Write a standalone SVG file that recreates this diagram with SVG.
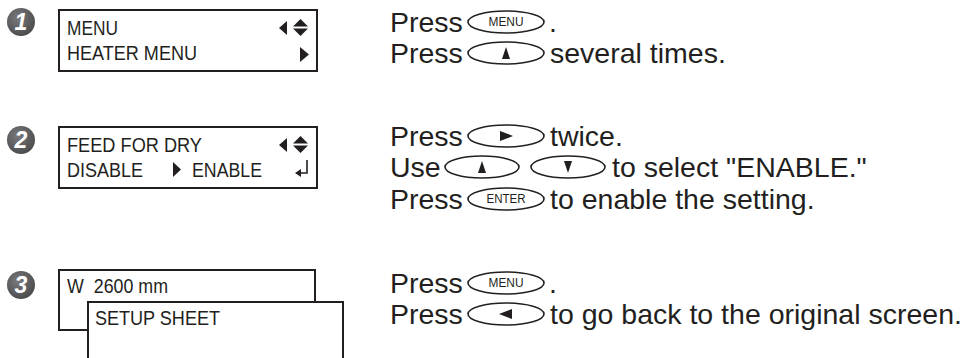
<svg xmlns="http://www.w3.org/2000/svg" width="974" height="358" viewBox="0 0 974 358">
<defs>
<style>
.lcd{fill:#fff;stroke:#231f20;stroke-width:2}
.lt{font-family:"Liberation Sans",Arial,sans-serif;font-size:20px;fill:#231f20}
.rt{font-family:"Liberation Sans",Arial,sans-serif;font-size:28.5px;fill:#231f20}
.key{fill:#fff;stroke:#231f20;stroke-width:1.6}
.kl{font-family:"Liberation Sans",Arial,sans-serif;font-size:12px;fill:#231f20;text-anchor:middle}
.sym{fill:#231f20}
.bn{font-family:"Liberation Sans",Arial,sans-serif;font-size:23px;font-weight:bold;font-style:italic;fill:#fff;text-anchor:middle}
</style>
<radialGradient id="bg" cx="0.4" cy="0.35" r="0.7">
<stop offset="0" stop-color="#7a7a7c"/>
<stop offset="1" stop-color="#4a4a4c"/>
</radialGradient>
</defs>
<rect width="974" height="358" fill="#fff"/>

<g id="step1">
<circle cx="21" cy="22" r="14" fill="url(#bg)"/>
<text class="bn" x="21" y="30">1</text>
<rect class="lcd" x="59" y="10" width="258" height="61"/>
<text class="lt" x="67" y="35" textLength="51" lengthAdjust="spacingAndGlyphs">MENU</text>
<text class="lt" x="67" y="60" textLength="130" lengthAdjust="spacingAndGlyphs">HEATER MENU</text>
<polygon class="sym" points="287,21 287,35 279,28"/>
<polygon class="sym" points="293,26.5 308,26.5 300.5,19"/>
<polygon class="sym" points="293,28.5 308,28.5 300.5,36"/>
<polygon class="sym" points="300,47 300,62 309,54.5"/>
</g>

<g id="step2">
<circle cx="21" cy="140" r="14" fill="url(#bg)"/>
<text class="bn" x="21" y="148">2</text>
<rect class="lcd" x="59" y="127" width="258" height="61"/>
<text class="lt" x="67" y="152" textLength="135" lengthAdjust="spacingAndGlyphs">FEED FOR DRY</text>
<text class="lt" x="67" y="177" textLength="76" lengthAdjust="spacingAndGlyphs">DISABLE</text>
<polygon class="sym" points="173,162 173,177 181,169.5"/>
<text class="lt" x="192" y="177" textLength="70" lengthAdjust="spacingAndGlyphs">ENABLE</text>
<polygon class="sym" points="287,138 287,152 279,145"/>
<polygon class="sym" points="293,143.5 308,143.5 300.5,136"/>
<polygon class="sym" points="293,145.5 308,145.5 300.5,153"/>
<polyline points="307,160 307,173 300,173" fill="none" stroke="#231f20" stroke-width="1.6"/>
<polygon class="sym" points="295,173 301,169 301,177"/>
</g>

<g id="step3">
<circle cx="21" cy="285" r="14" fill="url(#bg)"/>
<text class="bn" x="21" y="293">3</text>
<rect class="lcd" x="59" y="270" width="256" height="60"/>
<text class="lt" x="67" y="293" style="white-space:pre" textLength="101" lengthAdjust="spacingAndGlyphs">W  2600 mm</text>
<rect class="lcd" x="88" y="302" width="255" height="70"/>
<text class="lt" x="95" y="325" textLength="125" lengthAdjust="spacingAndGlyphs">SETUP SHEET</text>
</g>

<g id="instructions1">
<text class="rt" x="390" y="32">Press</text>
<ellipse class="key" cx="506" cy="22" rx="38" ry="11"/>
<text class="kl" x="506" y="26" textLength="35" lengthAdjust="spacingAndGlyphs">MENU</text>
<text class="rt" x="549" y="32">.</text>
<text class="rt" x="390" y="63">Press</text>
<ellipse class="key" cx="506" cy="53" rx="38" ry="11"/>
<polygon class="sym" points="502,59 510,59 506,47"/>
<text class="rt" x="550" y="63">several times.</text>
</g>

<g id="instructions2">
<text class="rt" x="390" y="146">Press</text>
<ellipse class="key" cx="506" cy="136" rx="38" ry="11"/>
<polygon class="sym" points="500,131 500,141 513,136"/>
<text class="rt" x="550" y="146">twice.</text>
<text class="rt" x="390" y="177">Use</text>
<ellipse class="key" cx="482" cy="167" rx="37" ry="11"/>
<polygon class="sym" points="478,173 486,173 482,161"/>
<ellipse class="key" cx="568" cy="167" rx="37" ry="11"/>
<polygon class="sym" points="564,161 572,161 568,173"/>
<text class="rt" x="612" y="177">to select "ENABLE."</text>
<text class="rt" x="390" y="209">Press</text>
<ellipse class="key" cx="506" cy="199" rx="38" ry="11"/>
<text class="kl" x="506" y="203" textLength="39" lengthAdjust="spacingAndGlyphs">ENTER</text>
<text class="rt" x="550" y="209">to enable the setting.</text>
</g>

<g id="instructions3">
<text class="rt" x="390" y="293">Press</text>
<ellipse class="key" cx="506" cy="283" rx="38" ry="11"/>
<text class="kl" x="506" y="287" textLength="35" lengthAdjust="spacingAndGlyphs">MENU</text>
<text class="rt" x="549" y="293">.</text>
<text class="rt" x="390" y="324">Press</text>
<ellipse class="key" cx="506" cy="314" rx="38" ry="11"/>
<polygon class="sym" points="499,314 512,309 512,319"/>
<text class="rt" x="550" y="324">to go back to the original screen.</text>
</g>
</svg>
